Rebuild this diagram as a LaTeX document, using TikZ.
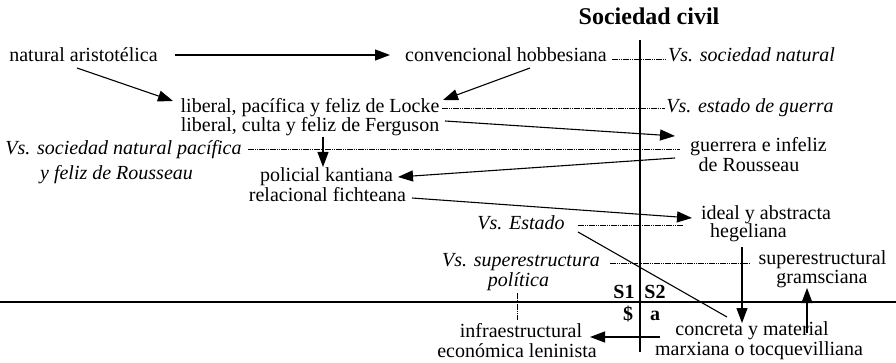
\documentclass[tikz,border=0pt]{standalone}
\usepackage{fontspec}
\setmainfont{Liberation Serif}
\usetikzlibrary{arrows.meta}
\begin{document}
\begin{tikzpicture}[x=1pt,y=-1pt,
  txt/.style={anchor=base, inner sep=0pt, font=\fontsize{20}{22}\selectfont},
  itx/.style={anchor=base, inner sep=0pt, font=\fontsize{20}{22}\selectfont\itshape},
  bfx/.style={anchor=base, inner sep=0pt, font=\fontsize{20}{22}\selectfont\bfseries},
  ttl/.style={anchor=base, inner sep=0pt, font=\fontsize{24}{26}\selectfont\bfseries},
  arr/.style={-{Triangle[length=15pt,width=11pt]}, line width=1.1pt},
  link/.style={line width=1.1pt},
  axis/.style={line width=1.2pt},
  dsh/.style={line width=0.7pt, dash pattern=on 1.5pt off 0.7pt}]
\useasboundingbox (0,0) rectangle (896,363);

% axes
\draw[axis] (640,40) -- (640,352);
\draw[axis] (0,302) -- (896,302);

% texts
\node[ttl] (title) at (649,25) {Sociedad civil};
\node[txt] (nat) at (83.5,62) {natural aristotélica};
\node[txt] (conv) at (506,62) {convencional hobbesiana};
\node[itx] (vsn) at (751.5,62) {Vs. sociedad natural};
\node[txt] (locke) at (310,113) {liberal, pacífica y feliz de Locke};
\node[itx] (vseg) at (750,113) {Vs. estado de guerra};
\node[txt] (ferg) at (310,132) {liberal, culta y feliz de Ferguson};
\node[itx] (vsnpA) at (123.5,155) {Vs. sociedad natural pacífica};
\node[itx] (vsnpB) at (116.5,180) {y feliz de Rousseau};
\node[txt] (guerA) at (758.5,152) {guerrera e infeliz};
\node[txt] (guerB) at (749,172) {de Rousseau};
\node[txt] (pol) at (326.5,182) {policial kantiana};
\node[txt] (rel) at (327.5,202) {relacional fichteana};
\node[txt] (ideA) at (766,219.5) {ideal y abstracta};
\node[txt] (ideB) at (748.5,238) {hegeliana};
\node[itx] (vse) at (521,230) {Vs. Estado};
\node[itx] (vssA) at (521,266) {Vs. superestructura};
\node[itx] (vssB) at (518.5,286) {política};
\node[txt] (supA) at (822.5,264.5) {superestructural};
\node[txt] (supB) at (822,283) {gramsciana};
\node[bfx] (s1) at (624,298) {S1};
\node[bfx] (s2) at (655,298) {S2};
\node[bfx] (sd) at (628,320) {\$};
\node[bfx] (sa) at (655,320) {a};
\node[txt] (infA) at (521,337) {infraestructural};
\node[txt] (infB) at (517,357) {económica leninista};
\node[txt] (conA) at (752,335) {concreta y material};
\node[txt] (conB) at (759,355) {marxiana o tocquevilliana};

% connectors
\draw[arr] ([shift={(91.5,-7)}]nat.base) -- ([shift={(-116,-7)}]conv.base);
\draw[arr] ([shift={(-6.5,6)}]nat.base) -- ([shift={(-137,-12)}]locke.base);
\draw[arr] ([shift={(24,6)}]conv.base) -- ([shift={(133,-13)}]locke.base);
\draw[dsh] ([shift={(106,-3)}]conv.base) -- ([shift={(-86.5,-3)}]vsn.base);
\draw[dsh] ([shift={(132,-5)}]locke.base) -- ([shift={(-85,-5)}]vseg.base);
\draw[arr] ([shift={(135,-11)}]ferg.base) -- ([shift={(-83.5,-16)}]guerA.base);
\draw[dsh] ([shift={(124.5,-6)}]vsnpA.base) -- ([shift={(-78.5,-3)}]guerA.base);
\draw[arr] ([shift={(13,5)}]ferg.base) -- ([shift={(-3.5,-15)}]pol.base);
\draw[arr] ([shift={(-74,-14)}]guerB.base) -- ([shift={(71.5,-5)}]pol.base);
\draw[arr] ([shift={(84.5,-4)}]rel.base) -- ([shift={(-74,-1.5)}]ideA.base);
\draw[dsh] ([shift={(57,-5)}]vse.base) -- ([shift={(-83,5.5)}]ideA.base);
\draw[link] ([shift={(57,2)}]vse.base) -- ([shift={(-25,-18)}]conA.base);
\draw[arr] ([shift={(-6.5,9)}]ideB.base) -- ([shift={(-10,-12)}]conA.base);
\draw[arr] ([shift={(55,-2)}]conA.base) -- ([shift={(-15,5)}]supB.base);
\draw[arr] ([shift={(-92,2)}]conA.base) -- ([shift={(69,0)}]infA.base);
\draw[dsh] ([shift={(89,-3)}]vssA.base) -- ([shift={(-72.5,-1.5)}]supA.base);
\draw[dsh] ([shift={(-1.5,7)}]vssB.base) -- ([shift={(-4,-17)}]infA.base);
\end{tikzpicture}
\end{document}
